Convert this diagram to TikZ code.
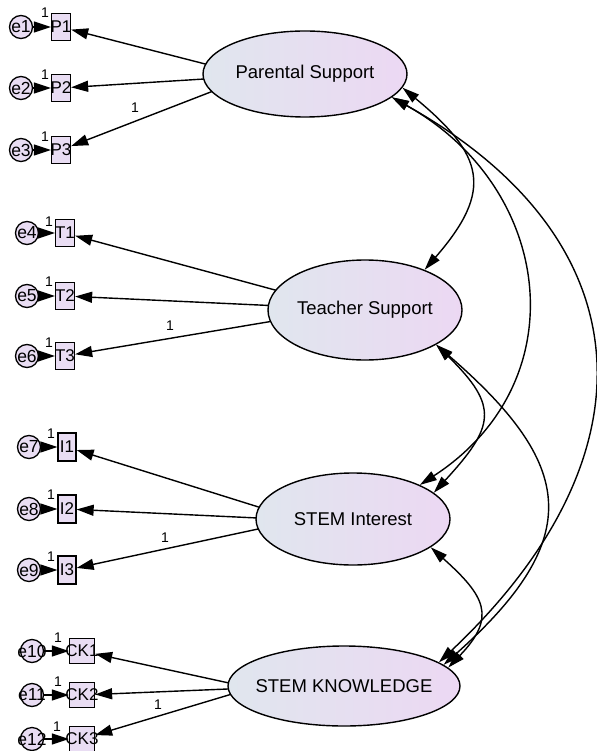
\documentclass[tikz,border=0pt]{standalone}
\usepackage{fontspec}
\setmainfont{Liberation Sans}
\usetikzlibrary{arrows.meta,shapes.geometric}

\definecolor{lav}{RGB}{233,221,243}
\definecolor{latL}{RGB}{224,230,238}
\definecolor{latR}{RGB}{236,216,243}

\tikzset{
  latent/.style={ellipse, draw, line width=1.4pt, left color=latL, right color=latR,
    inner sep=0pt, font=\fontsize{18.5}{21}\selectfont},
  obs/.style={rectangle, draw, line width=1.3pt, fill=lav, inner sep=0pt,
    font=\fontsize{17}{19}\selectfont},
  err/.style={circle, draw, line width=1.3pt, fill=lav, inner sep=0pt,
    minimum size=23pt, font=\fontsize{17.5}{19}\selectfont},
  loadarrow/.style={-{Triangle[length=17pt,width=11pt]}, line width=1.4pt},
  covarc/.style={{Triangle[length=17pt,width=10pt]}-{Triangle[length=17pt,width=10pt]}, line width=1.4pt},
  fixone/.style={font=\fontsize{14}{16}\selectfont, inner sep=0pt}
}

\begin{document}
\begin{tikzpicture}[x=1pt,y=-1pt]
\fill[white] (0,0) rectangle (596,751);
\useasboundingbox (0,0) rectangle (596,751);

% observed indicators
\foreach \n/\y in {P1/27,P2/88,P3/150}
  \node[obs, minimum width=19pt, minimum height=27pt] (\n) at (61,\y) {\makebox[0pt]{\n}};
\foreach \n/\y in {T1/233,T2/296,T3/356}
  \node[obs, minimum width=19pt, minimum height=27pt] (\n) at (65,\y) {\makebox[0pt]{\n}};
\foreach \n/\y in {I1/447,I2/509,I3/570}
  \node[obs, minimum width=18pt, minimum height=28pt] (\n) at (67,\y) {\makebox[0pt]{\n}};
\foreach \n/\y in {CK1/651,CK2/695,CK3/739}
  \node[obs, minimum width=25pt, minimum height=25pt] (\n) at (82,\y) {\makebox[0pt]{\n}};

% error terms
\foreach \n/\x/\y in {e1/21/27,e2/21/88,e3/21/150,
                      e4/27/233,e5/27/296,e6/27/356,
                      e7/29/447,e8/29/509,e9/29/570,
                      e10/32/651,e11/32/695,e12/32/739}
  \node[err] (\n) at (\x,\y) {\makebox[0pt]{\n}};

% error -> indicator paths
\foreach \e/\o in {e1/P1,e2/P2,e3/P3,e4/T1,e5/T2,e6/T3,
                   e7/I1,e8/I2,e9/I3,e10/CK1,e11/CK2,e12/CK3}
  \draw[loadarrow] (\e) -- (\o);

% loading paths, aimed at points inside each factor
\coordinate (PSa) at (252,76);
\coordinate (TSa) at (345,309);
\coordinate (SIa) at (300,520);
\coordinate (SKa) at (252,688);
\foreach \o in {P1,P2,P3} \draw[loadarrow] (PSa) -- (\o);
\foreach \o in {T1,T2,T3} \draw[loadarrow] (TSa) -- (\o);
\foreach \o in {I1,I2,I3} \draw[loadarrow] (SIa) -- (\o);
\foreach \o in {CK1,CK2,CK3} \draw[loadarrow] (SKa) -- (\o);

% latent factors
\node[latent, minimum width=204pt, minimum height=86pt] (PS) at (305,74) {\makebox[0pt]{Parental Support}};
\node[latent, minimum width=194pt, minimum height=100pt] (TS) at (365,310) {\makebox[0pt]{Teacher Support}};
\node[latent, minimum width=194pt, minimum height=92pt] (SI) at (353,519) {\makebox[0pt]{STEM Interest}};
\node[latent, minimum width=232pt, minimum height=80pt] (SK) at (344,686) {\makebox[0pt]{STEM KNOWLEDGE}};

% covariances
\draw[covarc] (PS.-8)  .. controls (484,155) and (494,190) .. (TS.34);
\draw[covarc] (PS.-15) .. controls (554,188) and (578,382) .. (SI.27);
\draw[covarc] (PS.-15) .. controls (647,240) and (658,456) .. (SK.14);
\draw[covarc] (TS.-26) .. controls (500,407) and (494,427) .. (SI.18);
\draw[covarc] (TS.-26) .. controls (574,464) and (587,537) .. (SK.12);
\draw[covarc] (SI.-20) .. controls (485,596) and (497,617) .. (SK.10);

% fixed parameters
\foreach \x/\y in {45/13,45/75,45/137,49/222,49/282,49/343,
                   51/434,51/495,51/557,58/638,58/682,57/727}
  \node[fixone] at (\x,\y) {1};
\node[fixone] at (135,108) {1};
\node[fixone] at (170,326) {1};
\node[fixone] at (165,538) {1};
\node[fixone] at (158,705) {1};
\end{tikzpicture}
\end{document}
